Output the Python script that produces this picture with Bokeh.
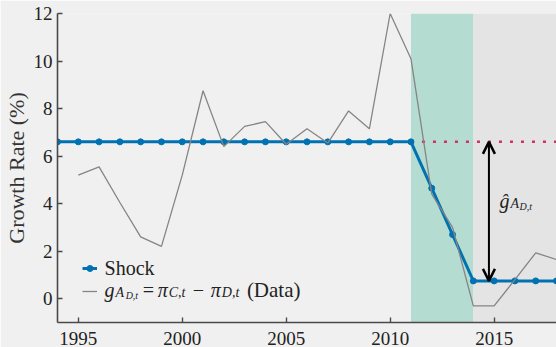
from bokeh.plotting import figure
from bokeh.models import (Range1d, BoxAnnotation, Arrow, OpenHead, Label,
                          Legend, LegendItem, FixedTicker)
from bokeh.embed import file_html
from bokeh.resources import INLINE

# ---------------- data ----------------
shock_years = [1994, 1995, 1996, 1997, 1998, 1999, 2000, 2001, 2002, 2003,
               2004, 2005, 2006, 2007, 2008, 2009, 2010, 2011, 2012, 2013,
               2014, 2015, 2016, 2017, 2018]
shock_values = [6.6, 6.6, 6.6, 6.6, 6.6, 6.6, 6.6, 6.6, 6.6, 6.6,
                6.6, 6.6, 6.6, 6.6, 6.6, 6.6, 6.6, 6.6, 4.65, 2.7,
                0.75, 0.75, 0.75, 0.75, 0.75]

data_years = [1995, 1996, 1997, 1998, 1999, 2000, 2001, 2002, 2003, 2004,
              2005, 2006, 2007, 2008, 2009, 2010, 2011, 2012, 2013, 2014,
              2015, 2016, 2017, 2018]
data_values = [5.2, 5.55, 4.05, 2.6, 2.2, 5.2, 8.75, 6.4, 7.25, 7.45,
               6.5, 7.15, 6.55, 7.9, 7.15, 12.0, 10.1, 4.4, 3.0, -0.3,
               -0.3, 0.8, 1.93, 1.65]

pre_shock_level = 6.6
post_shock_level = 0.75
dotted_years = [2011, 2018]
dotted_values = [6.6, 6.6]

transition_start = 2011
transition_end = 2014
arrow_year = 2014.75

x_ticks = [1995, 2000, 2005, 2010, 2015]
y_ticks = [0, 2, 4, 6, 8, 10, 12]

# ---------------- figure ----------------
BG = "#f0f0f0"
FONT = "Liberation Serif"
TXT = "#222222"
AX = "#4a4a4a"
BLUE = "#0072B2"

p = figure(width=556, height=347, output_backend="svg", toolbar_location=None,
           x_range=Range1d(1994, 2018), y_range=Range1d(-1, 12),
           min_border_left=0, min_border_right=0, min_border_top=13,
           min_border_bottom=24)
p.background_fill_color = BG
p.border_fill_color = BG
p.outline_line_color = None
p.grid.visible = False

for ax in (p.xaxis, p.yaxis):
    ax.axis_line_color = AX
    ax.axis_line_width = 1.6
    ax.major_tick_line_color = AX
    ax.major_tick_line_width = 1.4
    ax.major_tick_in = 5
    ax.major_tick_out = 0
    ax.minor_tick_line_color = None
    ax.major_label_text_font = FONT
    ax.major_label_text_font_size = "19px"
    ax.major_label_text_color = TXT
p.xaxis.ticker = FixedTicker(ticks=x_ticks)
p.yaxis.ticker = FixedTicker(ticks=y_ticks)
p.xaxis.major_label_standoff = 9
p.yaxis.major_label_standoff = 5
p.yaxis.axis_label = "Growth Rate (%)"
p.yaxis.axis_label_text_font = FONT
p.yaxis.axis_label_text_font_size = "22px"
p.yaxis.axis_label_text_font_style = "normal"
p.yaxis.axis_label_text_color = "#333333"
p.yaxis.axis_label_standoff = 2

# shaded regions
p.add_layout(BoxAnnotation(left=transition_start, right=transition_end,
                           fill_color="#009E73", fill_alpha=0.25,
                           line_color=None, level="underlay"))
p.add_layout(BoxAnnotation(left=transition_end, fill_color="#e4e4e4",
                           fill_alpha=1.0, line_color=None, level="underlay"))

# dotted pre-shock level
p.line(dotted_years, dotted_values, line_color="#cc3366", line_width=2.5,
       line_dash="3 8")

# shock path
shock_line = p.line(shock_years, shock_values, line_color=BLUE, line_width=3)
shock_pts = p.scatter(shock_years, shock_values, size=6, fill_color=BLUE,
                      line_color=BLUE)

# data line
data_line = p.line(data_years, data_values, line_color="#858585",
                   line_width=1.3)

# arrow
p.add_layout(Arrow(x_start=arrow_year, y_start=post_shock_level,
                   x_end=arrow_year, y_end=pre_shock_level,
                   start=OpenHead(size=12, line_width=2.5, line_color="black"),
                   end=OpenHead(size=12, line_width=2.5, line_color="black"),
                   line_width=2, line_color="black"))

# legend glyphs (text drawn as labels below)
legend = Legend(items=[LegendItem(label=" ", renderers=[shock_line, shock_pts]),
                       LegendItem(label=" ", renderers=[data_line])],
                location=(25, 21), margin=0, padding=0, spacing=3,
                glyph_width=15, glyph_height=20, label_height=20,
                label_text_font_size="2px", background_fill_alpha=0,
                border_line_alpha=0)
p.add_layout(legend)

FRAME_LEFT = 58
PX_PER_YEAR = (556 - FRAME_LEFT) / 24.0
PX_PER_UNIT = 23.7


def px_x(px):
    return 1994 + (px - FRAME_LEFT) / PX_PER_YEAR


def put(xpx, yval, text, size, italic=False, dy=0.0):
    p.add_layout(Label(x=px_x(xpx), y=yval - dy / PX_PER_UNIT, text=text,
                       text_font=FONT, text_font_size=f"{size}px",
                       text_font_style="italic" if italic else "normal",
                       text_color=TXT, text_baseline="alphabetic",
                       text_align="left"))


# legend texts
put(105, 1.29, "Shock", 20)
b2 = 0.38
put(105, b2, "g", 20, italic=True)
put(116, b2, "A", 14, italic=True, dy=3)
put(126, b2, "D,t", 10, italic=True, dy=6)
put(143, b2, "=", 20)
put(158, b2, "π", 20, italic=True)
put(169, b2, "C,t", 14, italic=True, dy=3)
put(193, b2, "−", 20)
put(211, b2, "π", 20, italic=True)
put(222, b2, "D,t", 14, italic=True, dy=3)
put(247, b2, "(Data)", 21)

# arrow annotation
ba = 4.13
put(499, ba, "ĝ", 20, italic=True)
put(510, ba, "A", 14, italic=True, dy=3)
put(519, ba, "D,t", 10, italic=True, dy=6)

open("out.html", "w").write(file_html(p, INLINE))
